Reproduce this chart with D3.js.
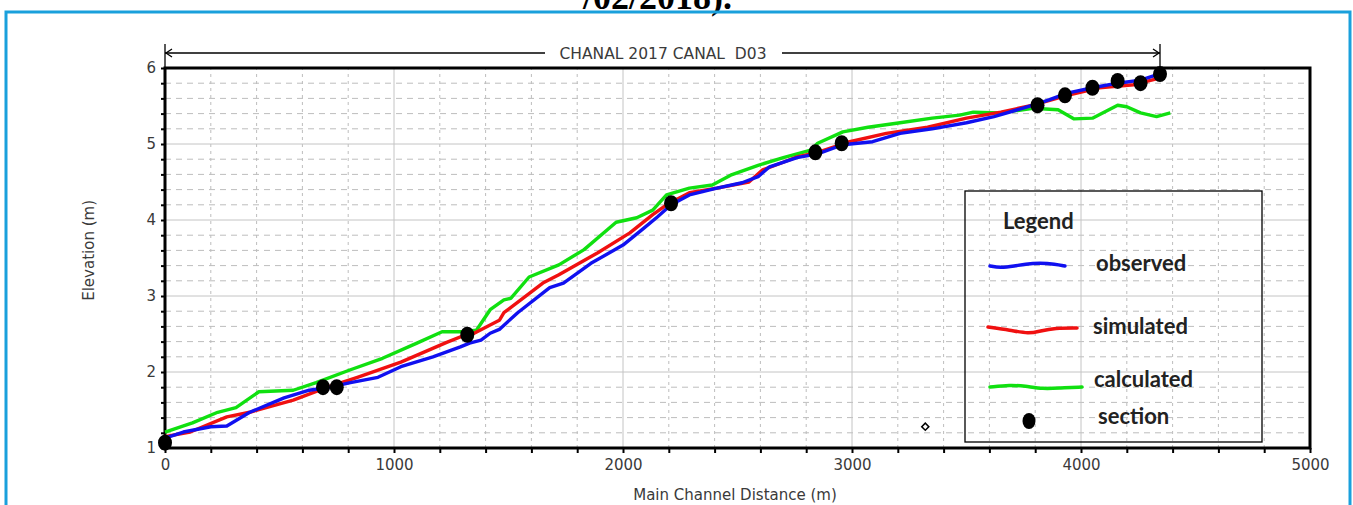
<!DOCTYPE html>
<html>
<head>
<meta charset="utf-8">
<script src="https://cdn.jsdelivr.net/npm/d3@7"></script>
<style>
  body { margin: 0; background: #fff; }
  svg { display: block; }
</style>
</head>
<body>
<script>
var width = 1353, height = 505;

// distance (m) / elevation (m)
var observedX = [0, 80, 200, 270, 370, 520, 630, 720, 810, 930, 1030, 1170, 1290, 1330, 1380, 1420, 1460, 1540, 1680, 1740, 1860, 2000, 2090, 2150, 2210, 2290, 2410, 2520, 2590, 2640, 2760, 2850, 2960, 3090, 3210, 3350, 3500, 3620, 3790, 3860, 3940, 4050, 4160, 4260, 4330];
var observedY = [1.13, 1.21, 1.28, 1.29, 1.47, 1.66, 1.76, 1.80, 1.86, 1.93, 2.07, 2.20, 2.33, 2.38, 2.42, 2.51, 2.56, 2.78, 3.11, 3.17, 3.43, 3.67, 3.89, 4.04, 4.20, 4.33, 4.42, 4.49, 4.57, 4.70, 4.82, 4.87, 4.99, 5.03, 5.14, 5.20, 5.28, 5.36, 5.51, 5.58, 5.67, 5.74, 5.80, 5.84, 5.91];

var simulatedX = [0, 110, 270, 370, 560, 710, 840, 1030, 1230, 1330, 1350, 1460, 1480, 1650, 1720, 1890, 2030, 2130, 2190, 2290, 2410, 2550, 2610, 2700, 2760, 2850, 2990, 3150, 3330, 3500, 3650, 3790, 3940, 4080, 4230, 4360];
var simulatedY = [1.15, 1.21, 1.41, 1.47, 1.63, 1.80, 1.93, 2.13, 2.39, 2.51, 2.51, 2.68, 2.78, 3.17, 3.28, 3.57, 3.83, 4.07, 4.20, 4.36, 4.42, 4.50, 4.66, 4.76, 4.83, 4.89, 5.03, 5.14, 5.22, 5.34, 5.42, 5.51, 5.64, 5.74, 5.78, 5.88];

var calculatedX = [0, 120, 230, 310, 410, 560, 660, 810, 950, 1100, 1210, 1300, 1360, 1420, 1480, 1510, 1590, 1720, 1830, 1970, 2060, 2130, 2190, 2290, 2390, 2470, 2590, 2700, 2820, 2850, 2960, 3070, 3210, 3350, 3470, 3530, 3650, 3790, 3900, 3970, 4050, 4160, 4200, 4260, 4330, 4390];
var calculatedY = [1.21, 1.33, 1.47, 1.53, 1.74, 1.76, 1.86, 2.03, 2.18, 2.38, 2.53, 2.53, 2.55, 2.82, 2.95, 2.97, 3.25, 3.41, 3.61, 3.97, 4.03, 4.13, 4.33, 4.42, 4.46, 4.59, 4.72, 4.82, 4.92, 5.01, 5.16, 5.22, 5.28, 5.34, 5.38, 5.42, 5.41, 5.47, 5.45, 5.33, 5.34, 5.51, 5.49, 5.41, 5.36, 5.41];

var sectionX = [0, 690, 750, 1320, 2210, 2840, 2955, 3810, 3930, 4050, 4160, 4260, 4345];
var sectionY = [1.07, 1.80, 1.80, 2.49, 4.22, 4.89, 5.01, 5.51, 5.64, 5.74, 5.83, 5.80, 5.92];

var strayX = [3320], strayY = [1.28];

var xTicks = [0, 1000, 2000, 3000, 4000, 5000];
var yTicks = [1, 2, 3, 4, 5, 6];

var legendNames = ["observed", "simulated", "calculated", "section"];
var colors = ["#1010f0", "#f01010", "#10e010"];

function zip(a, b) { return a.map(function(d, i) { return [d, b[i]]; }); }

var svg = d3.select("body").append("svg")
  .attr("width", width)
  .attr("height", height);

// title fragment cut by the top of the picture
svg.append("text")
  .attr("x", 583).attr("y", 9)
  .attr("font-family", "Liberation Serif")
  .attr("font-weight", "bold")
  .attr("font-size", 36)
  .attr("fill", "#000")
  .text("/02/2018).");

// light blue frame of the figure
svg.append("rect")
  .attr("x", 6).attr("y", 12)
  .attr("width", 1344).attr("height", 520)
  .attr("fill", "none")
  .attr("stroke", "#1aa0dc")
  .attr("stroke-width", 3);

var x = d3.scaleLinear().domain([0, 5000]).range([165, 1310]);
var y = d3.scaleLinear().domain([1, 6]).range([448, 68]);

var minorX = d3.range(0, 5001, 200);
var minorY = d3.range(1, 6.001, 0.2).map(function(d) { return +d.toFixed(1); });

var grid = svg.append("g");
grid.selectAll(".vx").data(minorX.filter(function(d) { return d % 1000 !== 0; }))
  .enter().append("line")
  .attr("x1", function(d) { return x(d); }).attr("x2", function(d) { return x(d); })
  .attr("y1", y(1)).attr("y2", y(6))
  .attr("stroke", "#bdbdbd").attr("stroke-dasharray", "3,4");
grid.selectAll(".hy").data(minorY.filter(function(d) { return Math.abs(d - Math.round(d)) > 0.01; }))
  .enter().append("line")
  .attr("x1", x(0)).attr("x2", x(5000))
  .attr("y1", function(d) { return y(d); }).attr("y2", function(d) { return y(d); })
  .attr("stroke", "#bdbdbd").attr("stroke-dasharray", "6,5");
grid.selectAll(".mx").data(xTicks)
  .enter().append("line")
  .attr("x1", function(d) { return x(d); }).attr("x2", function(d) { return x(d); })
  .attr("y1", y(1)).attr("y2", y(6))
  .attr("stroke", "#c4c4c4");
grid.selectAll(".my").data(yTicks)
  .enter().append("line")
  .attr("x1", x(0)).attr("x2", x(5000))
  .attr("y1", function(d) { return y(d); }).attr("y2", function(d) { return y(d); })
  .attr("stroke", "#c4c4c4");

// axes
var xAxis = d3.axisBottom(x).tickValues(minorX).tickSize(5).tickPadding(6)
  .tickFormat(function(d) { return d % 1000 === 0 ? d : ""; });
var yAxis = d3.axisLeft(y).tickValues(minorY).tickSize(4).tickPadding(5)
  .tickFormat(function(d) { return Math.abs(d - Math.round(d)) < 0.01 ? d3.format("d")(d) : ""; });

var gx = svg.append("g").attr("transform", "translate(0," + y(1) + ")").call(xAxis);
var gy = svg.append("g").attr("transform", "translate(" + x(0) + ",0)").call(yAxis);
[gx, gy].forEach(function(g) {
  g.select(".domain").remove();
  g.selectAll("line").attr("stroke", "#000").attr("stroke-width", 2);
  g.selectAll("text")
    .attr("font-family", "DejaVu Sans")
    .attr("font-size", 15)
    .attr("fill", "#3a3a3a");
});

svg.append("rect")
  .attr("x", x(0)).attr("y", y(6))
  .attr("width", x(5000) - x(0)).attr("height", y(1) - y(6))
  .attr("fill", "none")
  .attr("stroke", "#000")
  .attr("stroke-width", 3);

svg.append("text")
  .attr("transform", "translate(94," + (y(3.6)) + ") rotate(-90)")
  .attr("text-anchor", "middle")
  .attr("font-family", "DejaVu Sans")
  .attr("font-size", 15)
  .attr("fill", "#3a3a3a")
  .text("Elevation (m)");

svg.append("text")
  .attr("x", 735).attr("y", 500)
  .attr("text-anchor", "middle")
  .attr("font-family", "DejaVu Sans")
  .attr("font-size", 15)
  .attr("fill", "#3a3a3a")
  .text("Main Channel Distance (m)");

// reach annotation with arrows
var reachEnd = x(sectionX[sectionX.length - 1]);
var ann = svg.append("g").attr("stroke", "#000").attr("stroke-width", 1.3).attr("fill", "none");
ann.append("line").attr("x1", x(0)).attr("x2", x(0)).attr("y1", 44).attr("y2", y(6));
ann.append("line").attr("x1", reachEnd).attr("x2", reachEnd).attr("y1", 44).attr("y2", y(6));
ann.append("line").attr("x1", x(0)).attr("x2", 545).attr("y1", 53).attr("y2", 53);
ann.append("line").attr("x1", 782).attr("x2", reachEnd).attr("y1", 53).attr("y2", 53);
ann.append("path").attr("d", "M" + (x(0) + 7) + ",49 L" + (x(0) + 1) + ",53 L" + (x(0) + 7) + ",57");
ann.append("path").attr("d", "M" + (reachEnd - 7) + ",49 L" + (reachEnd - 1) + ",53 L" + (reachEnd - 7) + ",57");
svg.append("text")
  .attr("x", 663).attr("y", 59)
  .attr("text-anchor", "middle")
  .attr("font-family", "DejaVu Sans")
  .attr("font-size", 15.5)
  .attr("fill", "#3a3a3a")
  .attr("xml:space", "preserve")
  .text("CHANAL 2017 CANAL  D03");

// profiles
var line = d3.line()
  .x(function(d) { return x(d[0]); })
  .y(function(d) { return y(d[1]); })
  .curve(d3.curveLinear);

var series = [
  zip(calculatedX, calculatedY),
  zip(simulatedX, simulatedY),
  zip(observedX, observedY)
];
var order = [2, 1, 0];
series.forEach(function(s, i) {
  svg.append("path")
    .datum(s)
    .attr("d", line)
    .attr("fill", "none")
    .attr("stroke", colors[order[i]])
    .attr("stroke-width", 3.4)
    .attr("stroke-linejoin", "round");
});

svg.selectAll(".section")
  .data(zip(sectionX, sectionY))
  .enter().append("ellipse")
  .attr("cx", function(d) { return x(d[0]); })
  .attr("cy", function(d) { return y(d[1]); })
  .attr("rx", 7)
  .attr("ry", 8)
  .attr("fill", "#000");

svg.selectAll(".stray")
  .data(zip(strayX, strayY))
  .enter().append("path")
  .attr("transform", function(d) { return "translate(" + x(d[0]) + "," + y(d[1]) + ") rotate(45)"; })
  .attr("d", "M-2.5,-2.5h5v5h-5z")
  .attr("fill", "#fff")
  .attr("stroke", "#000")
  .attr("stroke-width", 1.5);

// legend
var lg = svg.append("g").attr("transform", "translate(965,191)");
lg.append("rect")
  .attr("width", 297).attr("height", 251)
  .attr("fill", "none")
  .attr("stroke", "#000")
  .attr("stroke-width", 1.3);

var legendFont = function(t) {
  return t.attr("font-family", "Lato")
    .attr("font-weight", "bold")
    .attr("font-size", 22)
    .attr("fill", "#222");
};
legendFont(lg.append("text").attr("x", 38).attr("y", 38).text("Legend"));

var swatches = [
  [[25, 75], [35, 77], [50, 75], [60, 73], [75, 72], [90, 73], [100, 75]],
  [[23, 136], [45, 139], [64, 143], [75, 140], [90, 137], [112, 137]],
  [[25, 196], [45, 194], [60, 195], [78, 198], [95, 197], [117, 196]]
];
var swLine = d3.line().curve(d3.curveBasis);
swatches.forEach(function(s, i) {
  lg.append("path")
    .attr("d", swLine(s))
    .attr("fill", "none")
    .attr("stroke", colors[i])
    .attr("stroke-width", 3.5)
    .attr("stroke-linecap", "round");
});
lg.append("ellipse").attr("cx", 64).attr("cy", 230).attr("rx", 6.5).attr("ry", 8).attr("fill", "#000");

var legendPos = [[131, 80], [128, 143], [129, 196], [133, 233]];
legendNames.forEach(function(n, i) {
  legendFont(lg.append("text").attr("x", legendPos[i][0]).attr("y", legendPos[i][1]).text(n));
});
</script>
</body>
</html>
